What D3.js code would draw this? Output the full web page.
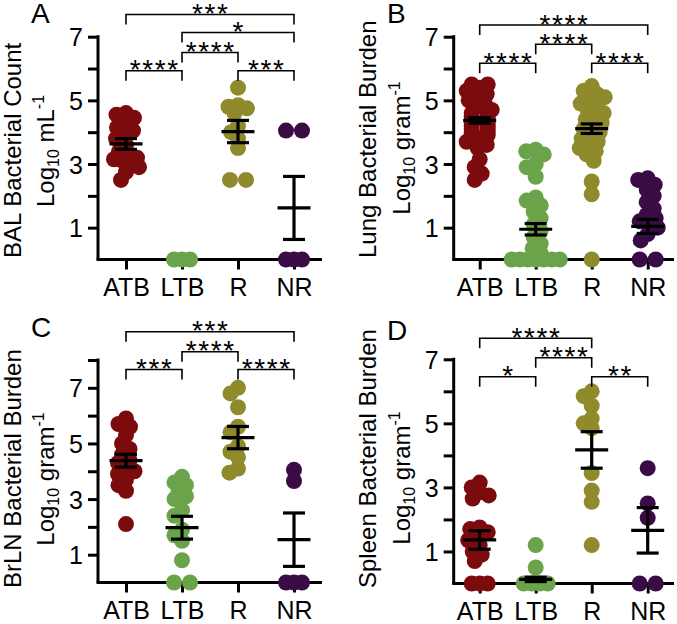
<!DOCTYPE html>
<html><head><meta charset="utf-8">
<script src="https://cdn.jsdelivr.net/npm/d3@7"></script>
<style>body{margin:0;background:#fff}svg{display:block}</style>
</head><body>
<svg id="c" width="677" height="624"></svg>
<script>
// ---------------- DATA ----------------
const categories = ["ATB", "LTB", "R", "NR"];
const groupColors = ["#7c0b0e", "#6ba34b", "#8f8b2c", "#3a0b45"];

// Panel A: BAL bacterial count (log10 per mL)
const balATB = [4.6, 4.55, 4.45, 4.25, 4.15, 4.05, 3.9, 3.8, 3.6, 3.4, 3.3, 3.2, 3.15, 3.1, 3.0, 2.9, 2.75, 2.5];
const balLTB = [0, 0, 0];
const balR = [5.4, 4.85, 4.8, 4.75, 4.6, 4.2, 4.0, 3.8, 3.5, 2.5, 2.5];
const balNR = [4.05, 4.05, 0, 0, 0];
const balMean = [3.63, null, 4.02, 1.62];
const balSem = [0.17, null, 0.35, 0.99];
const balTests = [["ATB", "NR", "***"], ["LTB", "NR", "*"], ["LTB", "R", "****"], ["ATB", "LTB", "****"], ["R", "NR", "***"]];

// Panel B: Lung bacterial burden (log10 per gram)
const lungATB = [5.5, 5.5, 5.4, 5.3, 5.2, 5.1, 5.0, 4.9, 4.8, 4.7, 4.6, 4.6, 4.5, 4.5, 4.4, 4.4, 4.3, 4.3, 4.2, 4.2, 4.1, 4.1, 4.0, 4.0, 3.9, 3.9, 3.8, 3.7, 3.6, 3.5, 3.15, 2.9, 2.7, 2.5];
const lungLTB = [3.45, 3.4, 3.3, 3.0, 2.9, 2.6, 1.95, 1.85, 1.7, 1.5, 1.3, 1.1, 0.9, 0.7, 0.5, 0.35, 0.2, 0, 0, 0, 0, 0, 0, 0];
const lungR = [5.45, 5.3, 5.2, 5.1, 5.0, 4.9, 4.8, 4.7, 4.6, 4.5, 4.4, 4.3, 4.2, 4.1, 4.0, 3.9, 3.8, 3.7, 3.6, 3.5, 3.4, 3.3, 3.1, 2.45, 2.05, 0];
const lungNR = [2.55, 2.5, 2.35, 2.2, 2.0, 1.8, 1.6, 1.4, 1.3, 1.2, 1.1, 1.0, 0.8, 0.6, 0, 0];
const lungMean = [4.37, 0.95, 4.11, 1.04];
const lungSem = [0.09, 0.18, 0.15, 0.22];
const lungTests = [["ATB", "NR", "****"], ["LTB", "R", "****"], ["ATB", "LTB", "****"], ["R", "NR", "****"]];

// Panel C: BrLN bacterial burden
const brlnATB = [5.9, 5.7, 5.6, 5.3, 5.0, 4.8, 4.6, 4.4, 4.3, 4.1, 4.0, 3.9, 3.7, 3.5, 3.3, 2.1];
const brlnLTB = [3.8, 3.6, 3.5, 3.3, 3.1, 3.0, 2.6, 2.4, 1.9, 1.7, 1.5, 0.8, 0, 0];
const brlnR = [7.0, 6.8, 6.3, 5.6, 5.4, 4.9, 4.7, 4.5, 4.1, 3.95];
const brlnNR = [4.05, 3.65, 0, 0, 0];
const brlnMean = [4.38, 1.97, 5.21, 1.54];
const brlnSem = [0.23, 0.41, 0.4, 0.96];
const brlnTests = [["ATB", "NR", "***"], ["LTB", "R", "****"], ["ATB", "LTB", "***"], ["R", "NR", "****"]];

// Panel D: Spleen bacterial burden
const spleenATB = [3.15, 3.0, 2.85, 2.75, 2.65, 1.75, 1.7, 1.6, 1.5, 1.35, 1.2, 1.0, 0.9, 0.7, 0, 0, 0];
const spleenLTB = [1.2, 0.5, 0, 0, 0, 0];
const spleenR = [6.0, 5.85, 5.55, 5.15, 5.0, 4.85, 3.45, 2.9, 2.55, 1.2];
const spleenNR = [3.6, 2.5, 2.05, 0, 0];
const spleenMean = [1.36, 0.13, 4.17, 1.66];
const spleenSem = [0.29, 0.07, 0.57, 0.71];
const spleenTests = [["ATB", "R", "****"], ["LTB", "R", "****"], ["ATB", "LTB", "*"], ["R", "NR", "**"]];

const yTicksA = [1, 2, 3, 4, 5, 6, 7];
const yTicksC = [1, 2, 3, 4, 5, 6, 7, 8];
const yLabelsShown = [1, 3, 5, 7];

// ---------------- LAYOUT ----------------
const panels = [
  {letter: "A", title: "BAL Bacterial Count", unit: "mL", groups: [balATB, balLTB, balR, balNR], mean: balMean, sem: balSem, tests: balTests,
   ax: 98, xEnd: 322, y0: 259.5, yTop: 36.7, ymax: 7, ticks: yTicksA, c0: 126, c1: 294,
   bracketY: [14.5, 32.5, 52.5, 70.7, 70.7], letterXY: [31, 23], titleX: 21, title2X: 54, titleStart: 258, title2Mid: 151},
  {letter: "B", title: "Lung Bacterial Burden", unit: "gram", groups: [lungATB, lungLTB, lungR, lungNR], mean: lungMean, sem: lungSem, tests: lungTests,
   ax: 453.7, xEnd: 674, y0: 259.5, yTop: 36.7, ymax: 7, ticks: yTicksA, c0: 479.7, c1: 647.7,
   bracketY: [25, 44.3, 63.3, 63.3], letterXY: [387, 23], titleX: 376, title2X: 410, titleStart: 258, title2Mid: 148},
  {letter: "C", title: "BrLN Bacterial Burden", unit: "gram", groups: [brlnATB, brlnLTB, brlnR, brlnNR], mean: brlnMean, sem: brlnSem, tests: brlnTests,
   ax: 98, xEnd: 322, y0: 582.5, yTop: 360, ymax: 8, ticks: yTicksC, c0: 126, c1: 294,
   bracketY: [331.7, 351.7, 369.5, 369.5], letterXY: [31, 337], titleX: 21, title2X: 54, titleStart: 588, title2Mid: 479},
  {letter: "D", title: "Spleen Bacterial Burden", unit: "gram", groups: [spleenATB, spleenLTB, spleenR, spleenNR], mean: spleenMean, sem: spleenSem, tests: spleenTests,
   ax: 453.7, xEnd: 674, y0: 583.5, yTop: 359.3, ymax: 7, ticks: yTicksA, c0: 479.7, c1: 647.7,
   bracketY: [338.3, 357.7, 376.7, 376.7], letterXY: [387, 340], titleX: 376, title2X: 410, titleStart: 588, title2Mid: 478}
];

const R = 8, MIN_DIST = 9.2, MAX_OFF = 13;
const FONT = "'Liberation Sans', Arial, Helvetica, sans-serif";
const svg = d3.select("#c");

// scatter layout: tied values are spread symmetrically; others dodge previously placed points
function beeswarm(values, y) {
  const counts = d3.rollup(values, v => v.length, d => d);
  const seen = new Map();
  const items = values.map(v => ({v, y: y(v)})).sort((a, b) => b.v - a.v);
  const placed = [];
  items.forEach(it => {
    const n = counts.get(it.v);
    if (n > 1) {
      const half = Math.min(24, Math.max(8, 4 * (n - 1)));
      const k = seen.get(it.v) || 0; seen.set(it.v, k + 1);
      it.x = -half + k * (2 * half / (n - 1));
    } else {
      let best = 0, bestD = -1;
      for (let k = 0; k < 200; k++) {
        const off = (k % 2 === 0 ? 1 : -1) * Math.ceil(k / 2) * 0.5;
        if (Math.abs(off) > MAX_OFF) break;
        const dmin = placed.length ? d3.min(placed, p => Math.hypot(p.x - off, p.y - it.y)) : Infinity;
        if (dmin >= MIN_DIST) { best = off; bestD = Infinity; break; }
        if (dmin > bestD) { bestD = dmin; best = off; }
      }
      it.x = best;
    }
    placed.push(it);
  });
  return items;
}

panels.forEach(p => {
  const g = svg.append("g");
  const x = d3.scalePoint().domain(categories).range([p.c0, p.c1]);
  const y = d3.scaleLinear().domain([0, p.ymax]).range([p.y0, p.yTop]);

  // y axis
  const yAxis = d3.axisLeft(y).tickValues(p.ticks).tickSize(10).tickPadding(5)
    .tickFormat(d => yLabelsShown.includes(d) ? d : "");
  const ya = g.append("g").attr("transform", `translate(${p.ax},0)`).call(yAxis);
  ya.select(".domain").remove();
  ya.selectAll(".tick line").attr("stroke", "#000").attr("stroke-width", 3);
  ya.selectAll(".tick text").attr("font-family", FONT).attr("font-size", 25).attr("fill", "#000").attr("dy", "0.36em");
  g.append("line").attr("x1", p.ax).attr("x2", p.ax).attr("y1", y(p.ymax) - 1.5).attr("y2", p.y0)
    .attr("stroke", "#000").attr("stroke-width", 3);

  // x axis
  const xAxis = d3.axisBottom(x).tickSize(10).tickPadding(9);
  const xa = g.append("g").attr("transform", `translate(0,${p.y0})`).call(xAxis);
  xa.select(".domain").remove();
  xa.selectAll(".tick line").attr("stroke", "#000").attr("stroke-width", 3);
  xa.selectAll(".tick text").attr("font-family", FONT).attr("font-size", 25).attr("fill", "#000");
  g.append("line").attr("x1", p.ax - 1.5).attr("x2", p.xEnd).attr("y1", p.y0).attr("y2", p.y0)
    .attr("stroke", "#000").attr("stroke-width", 3);

  // points
  p.groups.forEach((vals, gi) => {
    const pts = beeswarm(vals, y);
    g.append("g").selectAll("circle").data(pts).join("circle")
      .attr("cx", d => x(categories[gi]) + d.x).attr("cy", d => d.y).attr("r", R)
      .attr("fill", groupColors[gi]);
  });

  // mean ± SEM
  p.mean.forEach((m, gi) => {
    if (m === null) return;
    const cx = x(categories[gi]), s = p.sem[gi];
    const eg = g.append("g").attr("stroke", "#000").attr("stroke-width", 3.2);
    eg.append("line").attr("x1", cx).attr("x2", cx).attr("y1", y(m + s)).attr("y2", y(m - s));
    eg.append("line").attr("x1", cx - 11).attr("x2", cx + 11).attr("y1", y(m + s)).attr("y2", y(m + s));
    eg.append("line").attr("x1", cx - 11).attr("x2", cx + 11).attr("y1", y(m - s)).attr("y2", y(m - s));
    eg.append("line").attr("x1", cx - 16.5).attr("x2", cx + 16.5).attr("y1", y(m)).attr("y2", y(m));
  });

  // significance brackets
  p.tests.forEach((t, ti) => {
    const xa1 = x(t[0]), xb1 = x(t[1]), by = p.bracketY[ti];
    g.append("path").attr("d", `M${xa1},${by + 10}V${by}H${xb1}V${by + 10}`)
      .attr("fill", "none").attr("stroke", "#000").attr("stroke-width", 1.6);
    g.append("text").attr("x", (xa1 + xb1) / 2 + 0.8).attr("y", by + 8.5).attr("text-anchor", "middle")
      .attr("font-family", FONT).attr("font-size", 28).attr("letter-spacing", 1.6).text(t[2]);
  });

  // panel letter
  g.append("text").attr("x", p.letterXY[0]).attr("y", p.letterXY[1]).attr("font-family", FONT)
    .attr("font-size", 28).text(p.letter);

  // y titles
  g.append("text").attr("transform", `translate(${p.titleX},${p.titleStart}) rotate(-90)`)
    .attr("font-family", FONT).attr("font-size", 24).text(p.title);
  const t2 = g.append("text").attr("transform", `translate(${p.title2X},${p.title2Mid}) rotate(-90)`)
    .attr("text-anchor", "middle").attr("font-family", FONT).attr("font-size", 24);
  t2.append("tspan").text("Log");
  t2.append("tspan").attr("font-size", 16).attr("dy", 5).text("10");
  t2.append("tspan").attr("dy", -5).text(" " + p.unit);
  t2.append("tspan").attr("font-size", 16).attr("dy", -10).text("-1");
});
</script>
</body></html>
